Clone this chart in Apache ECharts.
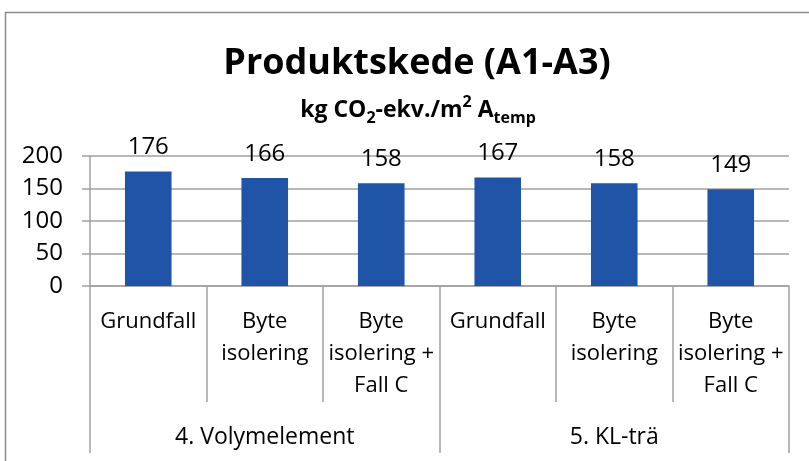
<!DOCTYPE html>
<html>
<head>
<meta charset="utf-8">
<script src="https://cdn.jsdelivr.net/npm/echarts@6/dist/echarts.min.js"></script>
<style>
  html, body { margin: 0; padding: 0; background: #fff; }
  #chart { width: 809px; height: 461px; }
</style>
</head>
<body>
<div id="chart"></div>
<script>
// 数据
const categories = ['Grundfall', 'Byte\nisolering', 'Byte\nisolering +\nFall C',
                    'Grundfall', 'Byte\nisolering', 'Byte\nisolering +\nFall C'];
const groups = ['4. Volymelement', '5. KL-trä'];
const values = [176, 166, 158, 167, 158, 149];
const yTicks = { min: 0, max: 200, interval: 50 };

const font = '"Open Sans", "Noto Sans", sans-serif';
const lineGrey = '#a0a0a0';
const barBlue = '#1f54a6';

const chart = echarts.init(document.getElementById('chart'));

const option = {
    animation: false,
    backgroundColor: '#fff',
    title: [
        {
            text: 'Produktskede (A1-A3)',
            left: 412,
            top: 37,
            textAlign: 'center',
            textStyle: {
                fontFamily: font,
                fontSize: 36,
                fontWeight: 'bold',
                color: '#000',
                lineHeight: 44
            }
        },
        {
            text: '{b|kg CO}{sub|2}{b|-ekv./m}{sup|2}{b| A}{sub|temp}',
            left: 413,
            top: 89,
            textAlign: 'center',
            textStyle: {
                rich: {
                    b: { fontFamily: font, fontSize: 23, fontWeight: 'bold', color: '#000', lineHeight: 32 },
                    sub: { fontFamily: font, fontSize: 16, fontWeight: 'bold', color: '#000', lineHeight: 17, verticalAlign: 'bottom' },
                    sup: { fontFamily: font, fontSize: 16, fontWeight: 'bold', color: '#000', lineHeight: 17, verticalAlign: 'top' }
                }
            }
        }
    ],
    // 外框
    graphic: [{
        type: 'rect',
        shape: { x: 5.5, y: 12.5, width: 820, height: 470 },
        style: { fill: 'none', stroke: '#8c8c8c', lineWidth: 1.5 },
        silent: true
    }],
    grid: {
        left: 90,
        right: 20,
        top: 156,
        bottom: 175,
        containLabel: false
    },
    xAxis: [
        {
            type: 'category',
            data: categories,
            position: 'bottom',
            axisLine: { show: true, lineStyle: { color: lineGrey, width: 1.5 } },
            axisTick: { show: true, interval: 0, length: 116, alignWithLabel: false, lineStyle: { color: lineGrey, width: 1.5 } },
            axisLabel: {
                interval: 0,
                margin: 20,
                fontFamily: font,
                fontSize: 22,
                lineHeight: 32,
                color: '#000'
            }
        },
        {
            type: 'category',
            data: groups,
            position: 'bottom',
            axisLine: { show: false },
            axisTick: { show: true, interval: 0, length: 167, alignWithLabel: false, lineStyle: { color: lineGrey, width: 1.5 } },
            axisLabel: {
                interval: 0,
                margin: 135,
                fontFamily: font,
                fontSize: 23,
                lineHeight: 32,
                color: '#000'
            }
        }
    ],
    yAxis: {
        type: 'value',
        min: yTicks.min,
        max: yTicks.max,
        interval: yTicks.interval,
        axisLine: { show: true, lineStyle: { color: lineGrey, width: 1.5 } },
        axisTick: { show: true, length: 8, lineStyle: { color: lineGrey, width: 1.5 } },
        axisLabel: {
            margin: 27,
            fontFamily: font,
            fontSize: 24,
            color: '#000'
        },
        splitLine: { show: true, lineStyle: { color: lineGrey, width: 1.5 } }
    },
    series: [{
        type: 'bar',
        xAxisIndex: 0,
        data: values,
        barWidth: '40%',
        itemStyle: { color: barBlue },
        label: {
            show: true,
            position: 'top',
            distance: 12,
            fontFamily: font,
            fontSize: 24,
            color: '#000'
        }
    }]
};

chart.setOption(option);
</script>
</body>
</html>
